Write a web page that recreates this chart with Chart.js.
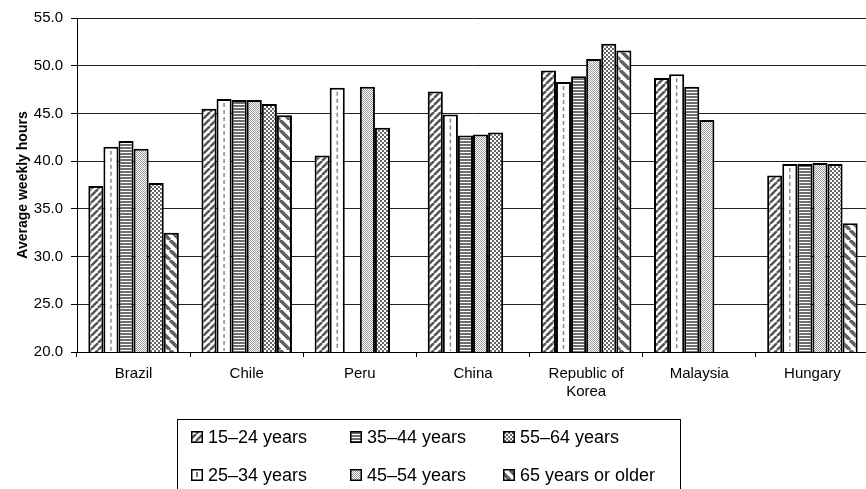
<!DOCTYPE html>
<html>
<head>
<meta charset="utf-8">
<title>Average weekly hours by age group</title>
<script src="https://cdn.jsdelivr.net/npm/chart.js@4.4.1/dist/chart.umd.min.js"></script>
<style>
  html, body { margin: 0; padding: 0; background: #fff; overflow: hidden; }
  #wrap { width: 872px; height: 489px; }
</style>
</head>
<body>
<div id="wrap"><canvas id="myChart" width="872" height="489"></canvas></div>
<script>
// chart data
const countries = ["Brazil", "Chile", "Peru", "China", ["Republic of", "Korea"], "Malaysia", "Hungary"];
const ageGroups = ["15–24 years", "25–34 years", "35–44 years", "45–54 years", "55–64 years", "65 years or older"];
const hours15to24 = [37.4, 45.5, 40.6, 47.3, 49.5, 48.7, 38.5];
const hours25to34 = [41.5, 46.5, 47.7, 44.9, 48.3, 49.1, 39.7];
const hours35to44 = [42.1, 46.4, null, 42.7, 48.9, 47.8, 39.7];
const hours45to54 = [41.3, 46.4, 47.8, 42.8, 50.7, 44.3, 39.8];
const hours55to64 = [37.7, 46.0, 43.5, 43.0, 52.3, null, 39.7];
const hours65plus = [32.5, 44.8, null, null, 51.6, null, 33.5];
const yTicks = [20, 25, 30, 35, 40, 45, 50, 55];

const FONT = "'Liberation Sans', Arial, sans-serif";

// build a repeating fill from a small tile
function makePattern(size, draw) {
  const c = document.createElement("canvas");
  c.width = size;
  c.height = size;
  const g = c.getContext("2d");
  g.fillStyle = "#fff";
  g.fillRect(0, 0, size, size);
  draw(g, size);
  return g.createPattern(c, "repeat");
}

function diagonal(up, width, color) {
  return (g, s) => {
    g.strokeStyle = color;
    g.lineWidth = width;
    g.beginPath();
    for (let k = -s; k <= s; k += s) {
      if (up) {
        g.moveTo(k, s);
        g.lineTo(k + s, 0);
      } else {
        g.moveTo(k, 0);
        g.lineTo(k + s, s);
      }
    }
    g.stroke();
  };
}

const fills = [
  makePattern(7, diagonal(true, 2.5, "#555")),
  "#fff",
  makePattern(3, (g) => {
    g.fillStyle = "#6e6e6e";
    g.fillRect(0, 0, 3, 2);
  }),
  makePattern(2, (g) => {
    g.fillStyle = "#9a9a9a";
    g.fillRect(0, 0, 1, 1);
    g.fillRect(1, 1, 1, 1);
  }),
  makePattern(4, (g) => {
    g.fillStyle = "#666";
    g.fillRect(0, 0, 2, 2);
    g.fillRect(2, 2, 2, 2);
  }),
  makePattern(10, diagonal(false, 3.5, "#606060")),
];

const seriesValues = [hours15to24, hours25to34, hours35to44, hours45to54, hours55to64, hours65plus];

// the 25-34 bars are white with a dashed line down the middle
const dashedCentre = {
  id: "dashedCentre",
  afterDatasetsDraw(chart) {
    const ctx = chart.ctx;
    const meta = chart.getDatasetMeta(1);
    const bottom = chart.chartArea.bottom;
    ctx.save();
    ctx.strokeStyle = "#8a8a8a";
    ctx.lineWidth = 1.5;
    ctx.setLineDash([4, 3]);
    meta.data.forEach((bar, i) => {
      if (hours25to34[i] == null) return;
      const { x, y } = bar.getProps(["x", "y"], true);
      ctx.beginPath();
      ctx.moveTo(x, y + 4);
      ctx.lineTo(x, bottom - 1);
      ctx.stroke();
    });
    ctx.restore();
  },
};

// boxed legend, three columns, filled down the columns
const boxedLegend = {
  id: "boxedLegend",
  afterDraw(chart) {
    const ctx = chart.ctx;
    const colX = [191, 350, 503];
    const rowY = [437, 475];
    ctx.save();
    ctx.strokeStyle = "#000";
    ctx.lineWidth = 1;
    ctx.strokeRect(177.5, 419.5, 503, 90);
    ctx.font = "18px " + FONT;
    ctx.textBaseline = "middle";
    chart.data.datasets.forEach((ds, i) => {
      const x = colX[Math.floor(i / 2)];
      const y = rowY[i % 2];
      ctx.fillStyle = ds.backgroundColor;
      ctx.fillRect(x, y - 6, 12, 12);
      if (i === 1) {
        ctx.fillStyle = "#777";
        ctx.fillRect(x + 5, y - 3, 2, 5);
      }
      ctx.strokeStyle = "#000";
      ctx.lineWidth = 1.5;
      ctx.strokeRect(x + 0.75, y - 5.25, 10.5, 10.5);
      ctx.fillStyle = "#000";
      ctx.fillText(ds.label, x + 17, y + 1);
    });
    ctx.restore();
  },
};

new Chart("myChart", {
  type: "bar",
  data: {
    labels: countries,
    datasets: ageGroups.map((label, i) => ({
      label: label,
      data: seriesValues[i],
      backgroundColor: fills[i],
      borderColor: "#000",
      borderWidth: 2,
      borderSkipped: false,
      categoryPercentage: 0.8,
      barPercentage: 1.0,
    })),
  },
  options: {
    responsive: false,
    animation: false,
    layout: { padding: { top: 18, right: 3, bottom: 77, left: 0 } },
    plugins: {
      legend: { display: false },
      tooltip: { enabled: false },
    },
    scales: {
      x: {
        offset: true,
        grid: {
          display: true,
          offset: true,
          drawOnChartArea: false,
          drawTicks: true,
          tickLength: 5,
          tickColor: "#000",
        },
        border: { color: "#000", width: 1 },
        ticks: {
          color: "#000",
          font: { family: FONT, size: 15, lineHeight: 1.2 },
          padding: 8,
          maxRotation: 0,
          autoSkip: false,
        },
        afterFit: (scale) => {
          scale.height = 60;
        },
      },
      y: {
        min: 20,
        max: 55,
        afterBuildTicks: (scale) => {
          scale.ticks = yTicks.map((v) => ({ value: v }));
        },
        grid: {
          color: "#222",
          lineWidth: 1,
          drawTicks: true,
          tickLength: 6,
          tickColor: "#000",
        },
        border: { color: "#000", width: 1 },
        ticks: {
          color: "#000",
          font: { family: FONT, size: 15 },
          padding: 8,
          callback: (v) => v.toFixed(1),
        },
        title: {
          display: true,
          text: "Average weekly hours",
          color: "#000",
          font: { family: FONT, size: 14, weight: "bold" },
          padding: { top: 15, bottom: 0 },
        },
        afterFit: (scale) => {
          scale.width = 77;
        },
      },
    },
  },
  plugins: [dashedCentre, boxedLegend],
});
</script>
</body>
</html>
